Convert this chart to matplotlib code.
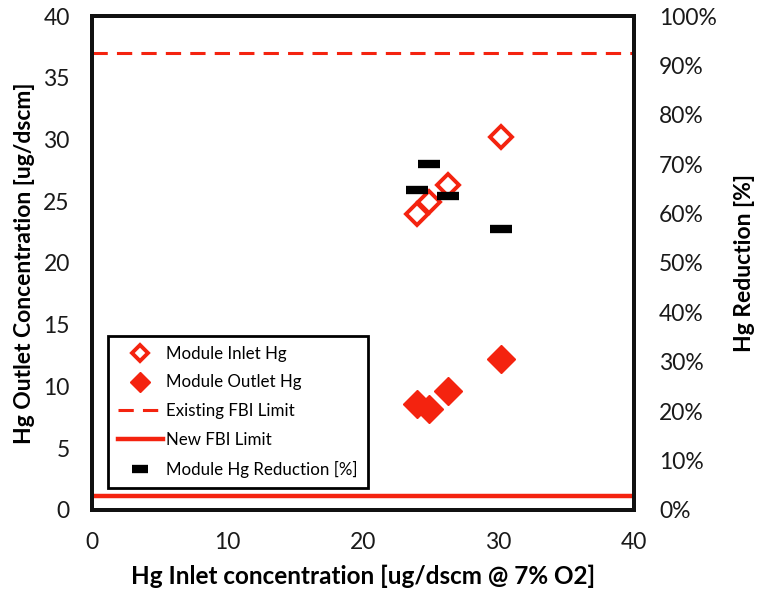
import matplotlib
matplotlib.use('Agg')
import matplotlib.pyplot as plt
from matplotlib.ticker import FuncFormatter

# 数据
inlet_hg = [24.0, 24.9, 26.3, 30.2]
outlet_hg = [8.6, 8.2, 9.6, 12.2]
reduction_pct = [64.8, 70.0, 63.6, 56.8]
existing_limit = 37.0
new_limit = 1.15

red = '#f4230f'
plt.rcParams['font.family'] = ['Lato', 'DejaVu Sans']

fig = plt.figure(figsize=(7.63, 5.95), dpi=100)
ax = fig.add_axes([0.1206, 0.1429, 0.7104, 0.8302])
ax2 = ax.twinx()

# 主轴：入口/出口浓度
h_in, = ax.plot(inlet_hg, inlet_hg, linestyle='none', marker='D', markersize=11,
                markerfacecolor='white', markeredgecolor=red, markeredgewidth=2.8,
                label='Module Inlet Hg', zorder=4)
h_out, = ax.plot(inlet_hg, outlet_hg, linestyle='none', marker='D', markersize=14,
                 color=red, label='Module Outlet Hg', zorder=4)
h_ex = ax.axhline(existing_limit, color=red, linewidth=2.2, dashes=(5, 3),
                  label='Existing FBI Limit')
h_new = ax.axhline(new_limit, color=red, linewidth=3.2, label='New FBI Limit')

# 次轴：去除率
h_red, = ax2.plot(inlet_hg, reduction_pct, linestyle='none', marker='_',
                  markersize=16, markeredgewidth=6, color='black',
                  label='Module Hg Reduction [%]', zorder=4)

ax.set_xlim(0, 40)
ax.set_ylim(0, 40)
ax2.set_ylim(0, 100)
ax.set_xticks(range(0, 41, 10))
ax.set_yticks(range(0, 41, 5))
ax2.set_yticks(range(0, 101, 10))
ax2.yaxis.set_major_formatter(FuncFormatter(lambda v, p: f'{int(v)}%'))

for a in (ax, ax2):
    a.tick_params(length=0, labelsize=16.5, pad=16, colors='#1a1a1a')
    for s in a.spines.values():
        s.set_linewidth(2.8)
        s.set_color('#111111')
ax2.tick_params(pad=18)

ax.set_xlabel('Hg Inlet concentration [ug/dscm @ 7% O2]', fontsize=17.5,
              fontweight='bold', labelpad=8)
ax.set_ylabel('Hg Outlet Concentration [ug/dscm]', fontsize=16.5,
              fontweight='bold', labelpad=6)
ax2.set_ylabel('Hg Reduction [%]', fontsize=16.5, fontweight='bold', labelpad=12)

leg = ax.legend(handles=[h_in, h_out, h_ex, h_new, h_red], loc='lower left',
                bbox_to_anchor=(0.03, 0.045), borderaxespad=0, fontsize=12.2,
                fancybox=False, framealpha=1, edgecolor='black', markerscale=0.7,
                labelspacing=0.75, handlelength=2.6, handletextpad=0.2,
                borderpad=0.6)
leg.get_frame().set_linewidth(2)
leg.set_zorder(10)

plt.savefig('out.png', dpi=100)
